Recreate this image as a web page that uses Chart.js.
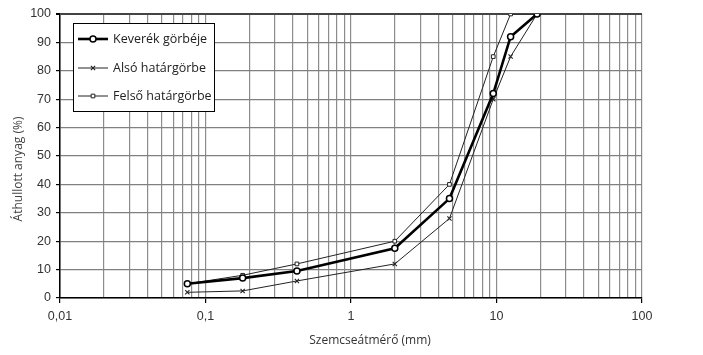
<!DOCTYPE html>
<html><head><meta charset="utf-8">
<script src="https://cdn.jsdelivr.net/npm/chart.js@4.4.0/dist/chart.umd.min.js"></script>
<style>html,body{margin:0;padding:0;background:#fff}#wrap{width:703px;height:355px;position:relative}</style>
</head><body><div id="wrap"><canvas id="c" width="703" height="355"></canvas></div>
<script>
const sieveSizes = [0.075, 0.18, 0.425, 2, 4.75, 9.5, 12.5, 19];
const blendCurve = [5, 7, 9.5, 17.5, 35, 72, 92, 100];
const lowerLimit = [2, 2.5, 6, 12, 28, 70, 85, 100];
const upperLimit = [5, 8, 12, 20, 40, 85, 100, 100];
const seriesLabels = ['Keverék görbéje', 'Alsó határgörbe', 'Felső határgörbe'];
const xTickLabels = {0.01: '0,01', 0.1: '0,1', 1: '1', 10: '10', 100: '100'};
const yTicks = [0, 10, 20, 30, 40, 50, 60, 70, 80, 90, 100];
const xTitle = 'Szemcseátmérő (mm)';
const yTitle = 'Áthullott anyag (%)';

const toPts = vals => sieveSizes.map((s, i) => ({x: s, y: vals[i]}));
const isDecade = v => Math.abs(Math.log10(v) - Math.round(Math.log10(v))) < 1e-9;

const markerStyles = [
  {style: 'circle', r: 3, lw: 1.5},
  {style: 'crossRot', r: 3, lw: 1.1},
  {style: 'rect', r: 2.6, lw: 1}
];
const lineWidths = [2.6, 1, 1];

const extraText = {
  id: 'extraText',
  afterDraw(chart) {
    const ctx = chart.ctx;
    ctx.save();
    ctx.fillStyle = '#333';
    ctx.font = '12px "Open Sans"';
    ctx.textAlign = 'center';
    ctx.textBaseline = 'middle';
    ctx.fillText(xTitle, 370, 341);
    ctx.save();
    ctx.translate(19, 169);
    ctx.rotate(-Math.PI / 2);
    ctx.fillStyle = '#444';
    ctx.fillText(yTitle, 0, 0);
    ctx.restore();
    // legend
    ctx.fillStyle = '#fff';
    ctx.fillRect(73.5, 23.5, 141, 88);
    ctx.strokeStyle = '#000';
    ctx.lineWidth = 1;
    ctx.strokeRect(73.5, 23.5, 141, 88);
    const rows = [39, 68, 96];
    chart.data.datasets.forEach((ds, i) => {
      const y = rows[i];
      ctx.strokeStyle = ds.borderColor;
      ctx.lineWidth = lineWidths[i];
      ctx.beginPath(); ctx.moveTo(78, y); ctx.lineTo(108, y); ctx.stroke();
      const m = markerStyles[i];
      ctx.fillStyle = '#fff';
      ctx.lineWidth = m.lw;
      Chart.helpers.drawPoint(ctx, {pointStyle: m.style, radius: m.r, borderWidth: m.lw, rotation: 0}, 93, y);
      ctx.fillStyle = '#222';
      ctx.font = '12.5px "Open Sans"';
      ctx.textAlign = 'left';
      ctx.textBaseline = 'middle';
      ctx.fillText(ds.label, 113, y);
    });
    ctx.restore();
  }
};

const mkDs = (label, vals, i, color) => ({
  label, data: toPts(vals),
  borderColor: color, borderWidth: lineWidths[i],
  pointStyle: markerStyles[i].style, pointRadius: markerStyles[i].r,
  pointBorderWidth: markerStyles[i].lw, pointBackgroundColor: '#fff',
  pointBorderColor: color, tension: 0, order: i === 0 ? 0 : 1
});

new Chart(document.getElementById('c'), {
  type: 'line',
  data: {
    datasets: [
      mkDs(seriesLabels[0], blendCurve, 0, '#000'),
      mkDs(seriesLabels[1], lowerLimit, 1, '#222'),
      mkDs(seriesLabels[2], upperLimit, 2, '#222')
    ]
  },
  options: {
    responsive: false, animation: false, devicePixelRatio: 1,
    layout: {padding: {top: 14, right: 61, left: 0, bottom: 0}},
    plugins: {legend: {display: false}, tooltip: {enabled: false}},
    scales: {
      x: {
        type: 'logarithmic', min: 0.01, max: 100,
        afterBuildTicks(scale) {
          const t = [];
          for (let e = -2; e <= 1; e++) for (let m = 1; m <= 9; m++) t.push({value: m * Math.pow(10, e)});
          t.push({value: 100});
          scale.ticks = t;
        },
        afterFit(scale) { scale.height = 57; },
        ticks: {
          autoSkip: false, maxRotation: 0, padding: 6, color: '#333',
          font: {family: '"Liberation Sans", Arial', size: 12.5},
          callback: (v) => xTickLabels[v] !== undefined ? xTickLabels[v] : (isDecade(v) ? String(v) : '')
        },
        grid: {
          color: '#8c8c8c', lineWidth: 1.2, tickLength: 5,
          tickColor: (c) => (c.tick && isDecade(c.tick.value)) ? '#000' : 'rgba(0,0,0,0)'
        },
        border: {color: '#000', width: 1.5}
      },
      y: {
        min: 0, max: 100,
        afterBuildTicks(scale) { scale.ticks = yTicks.map(v => ({value: v})); },
        afterFit(scale) { scale.width = 60; },
        ticks: {padding: 5, color: '#333', font: {family: '"Liberation Sans", Arial', size: 12.5}},
        grid: {
          color: (c) => c.tick && c.tick.value === 100 ? '#444' : '#808080',
          lineWidth: (c) => c.tick && c.tick.value === 100 ? 2 : 1.2,
          tickLength: 4, tickColor: '#000'
        },
        border: {color: '#000', width: 1.5}
      }
    }
  },
  plugins: [extraText]
});
</script>
</body></html>
